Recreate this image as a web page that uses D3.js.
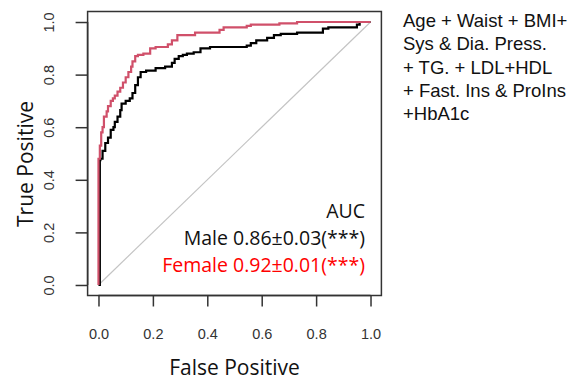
<!DOCTYPE html>
<html>
<head>
<meta charset="utf-8">
<script src="https://cdn.jsdelivr.net/npm/d3@7"></script>
<style>
  body { margin: 0; background: #fff; }
</style>
</head>
<body>
<div id="chart"></div>
<script>
// ROC points: [false positive, true positive]
const female_roc = [[0,0],[0,0.43],[0.005,0.48],[0.01,0.53],[0.015,0.58],[0.02,0.6],[0.03,0.64],[0.035,0.66],
  [0.045,0.68],[0.053,0.70],[0.06,0.71],[0.07,0.72],[0.08,0.735],[0.09,0.75],[0.1,0.77],[0.11,0.79],[0.12,0.81],
  [0.125,0.83],[0.135,0.85],[0.145,0.87],[0.165,0.875],[0.19,0.88],[0.21,0.90],[0.255,0.905],[0.27,0.915],
  [0.29,0.93],[0.355,0.95],[0.445,0.96],[0.46,0.97],[0.545,0.98],[0.56,0.985],[0.665,0.99],[0.73,0.995],[0.86,1.0],[1,1]];
const male_roc = [[0,0],[0.005,0],[0.005,0.32],[0.007,0.475],[0.015,0.48],[0.025,0.51],[0.035,0.54],[0.045,0.56],
  [0.055,0.59],[0.06,0.60],[0.07,0.62],[0.08,0.64],[0.085,0.665],[0.1,0.69],[0.115,0.70],[0.125,0.71],[0.135,0.73],
  [0.145,0.76],[0.155,0.79],[0.175,0.81],[0.21,0.815],[0.245,0.825],[0.27,0.83],[0.28,0.845],[0.295,0.86],[0.31,0.87],
  [0.325,0.875],[0.35,0.88],[0.375,0.885],[0.41,0.90],[0.545,0.905],[0.56,0.91],[0.58,0.92],[0.62,0.93],[0.645,0.94],
  [0.67,0.95],[0.73,0.955],[0.825,0.96],[0.845,0.975],[0.95,0.98],[0.96,0.99],[0.99,1.0],[1,1]];
const ticks = [0, 0.2, 0.4, 0.6, 0.8, 1.0];
const auc_lines = ["AUC", "Male 0.86\u00b10.03(***)", "Female 0.92\u00b10.01(***)"];
const model_lines = ["Age + Waist + BMI+", "Sys & Dia. Press.", "+ TG. + LDL+HDL", "+ Fast. Ins & ProIns", "+HbA1c"];

const width = 588, height = 380;
const color_male = "#000000", color_female = "#d0506a";

const svg = d3.select("#chart").append("svg")
  .attr("width", width)
  .attr("height", height);

const x = d3.scaleLinear().domain([-0.04, 1.04]).range([87.6, 381.4]);
const y = d3.scaleLinear().domain([-0.04, 1.04]).range([295.5, 11.5]);

// diagonal
svg.append("line")
  .attr("x1", x(0)).attr("y1", y(0))
  .attr("x2", x(1)).attr("y2", y(1))
  .attr("stroke", "#c4c4c4").attr("stroke-width", 1.2);

const line = d3.line()
  .x(d => x(d[0]))
  .y(d => y(d[1]))
  .curve(d3.curveStepBefore);

svg.append("path").datum(male_roc)
  .attr("d", line).attr("fill", "none")
  .attr("stroke", color_male).attr("stroke-width", 2.2);

svg.append("path").datum(female_roc)
  .attr("d", line).attr("fill", "none")
  .attr("stroke", color_female).attr("stroke-width", 2.2);

// box
svg.append("rect")
  .attr("x", x(-0.04)).attr("y", y(1.04))
  .attr("width", x(1.04) - x(-0.04)).attr("height", y(-0.04) - y(1.04))
  .attr("fill", "none").attr("stroke", "#333").attr("stroke-width", 1.5);

// axes
const xAxis = svg.append("g")
  .attr("transform", `translate(0,${y(-0.04)})`)
  .call(d3.axisBottom(x).tickValues(ticks).tickFormat(d3.format(".1f")).tickSize(11).tickPadding(22));
const yAxis = svg.append("g")
  .attr("transform", `translate(${x(-0.04)},0)`)
  .call(d3.axisLeft(y).tickValues(ticks).tickFormat(d3.format(".1f")).tickSize(12));

[xAxis, yAxis].forEach(g => {
  g.select(".domain").attr("stroke", "#333").attr("stroke-width", 1.5)
    .attr("d", g === xAxis ? `M${x(0)},0H${x(1)}` : `M0,${y(0)}V${y(1)}`);
  g.selectAll(".tick line").attr("stroke", "#333").attr("stroke-width", 1.5);
  g.selectAll(".tick text").attr("fill", "#333")
    .style("font-family", "Liberation Sans, Arial, sans-serif").style("font-size", "14.5px");
});

yAxis.selectAll(".tick text")
  .attr("x", 0).attr("y", 0).attr("dy", 0)
  .attr("text-anchor", "middle")
  .attr("transform", "translate(-34,0) rotate(-90)");

// axis titles
svg.append("text")
  .attr("x", (x(0) + x(1)) / 2).attr("y", 375)
  .attr("text-anchor", "middle")
  .style("font-family", "Open Sans, sans-serif").style("font-size", "21px")
  .attr("fill", "#111")
  .text("False Positive");

svg.append("text")
  .attr("transform", `translate(33,164) rotate(-90)`)
  .attr("text-anchor", "middle")
  .style("font-family", "Open Sans, sans-serif").style("font-size", "21px")
  .attr("fill", "#111")
  .text("True Positive");

// AUC legend
svg.selectAll(".auc").data(auc_lines).enter().append("text")
  .attr("class", "auc")
  .attr("x", 365).attr("y", (d, i) => 218 + i * 27)
  .attr("text-anchor", "end")
  .style("font-family", "Open Sans, sans-serif").style("font-size", "19.5px")
  .attr("fill", (d, i) => i === 2 ? "#ff0000" : "#111")
  .text(d => d);

// model description
svg.selectAll(".model").data(model_lines).enter().append("text")
  .attr("class", "model")
  .attr("x", 403).attr("y", (d, i) => 27 + i * 23.3)
  .style("font-family", "Liberation Sans, Arial, sans-serif").style("font-size", "18.5px")
  .attr("fill", "#111")
  .text(d => d);
</script>
</body>
</html>
